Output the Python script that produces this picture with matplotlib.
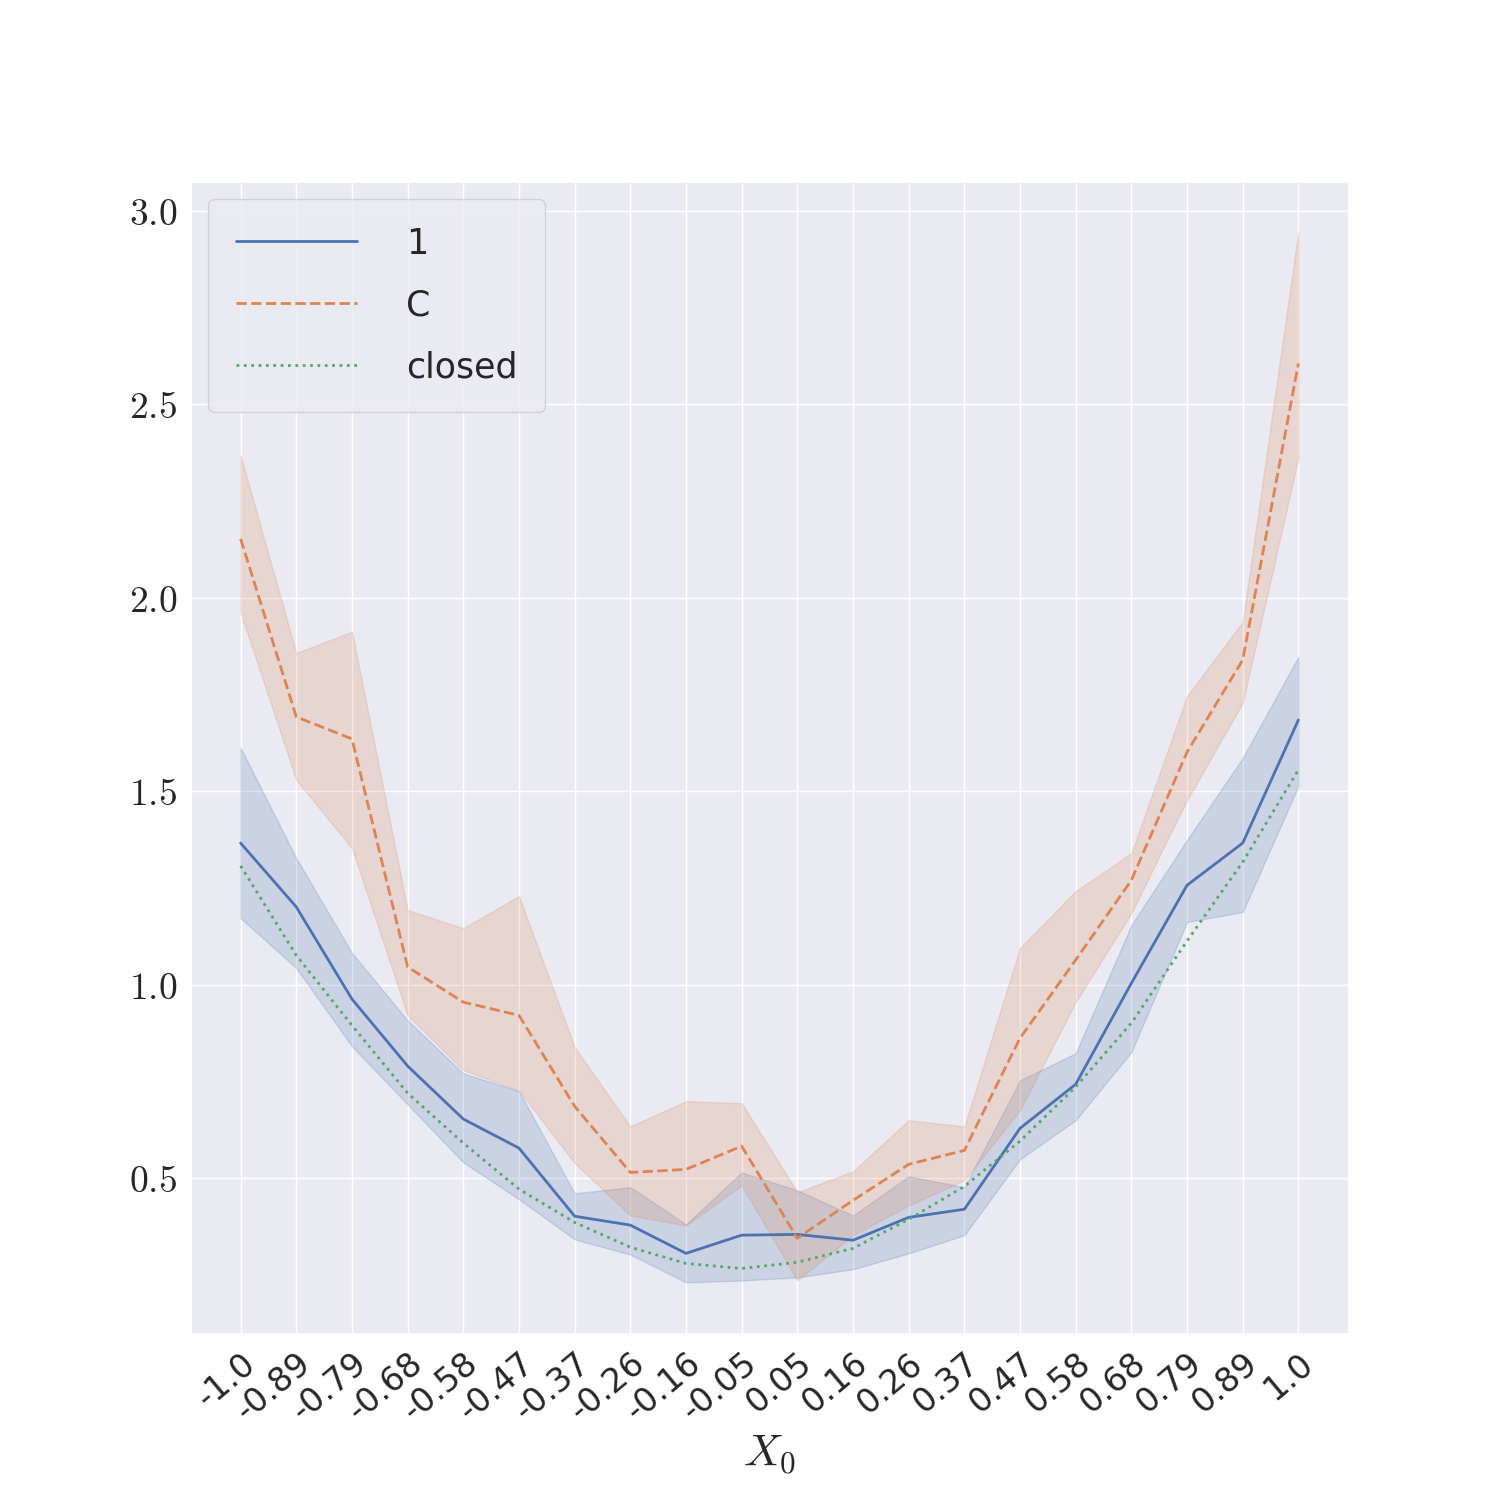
import matplotlib
matplotlib.use('Agg')
import matplotlib.pyplot as plt
import numpy as np
import seaborn as sns

sns.set_theme(style='darkgrid')
plt.rcParams['mathtext.fontset'] = 'cm'

x_labels = ['-1.0', '-0.89', '-0.79', '-0.68', '-0.58', '-0.47', '-0.37', '-0.26', '-0.16', '-0.05',
            '0.05', '0.16', '0.26', '0.37', '0.47', '0.58', '0.68', '0.79', '0.89', '1.0']

one_mean = [1.366, 1.201, 0.963, 0.790, 0.653, 0.578, 0.402, 0.379, 0.306, 0.353,
            0.355, 0.340, 0.399, 0.420, 0.629, 0.743, 1.004, 1.257, 1.366, 1.684]
one_hi = [1.612, 1.327, 1.082, 0.908, 0.771, 0.725, 0.461, 0.477, 0.381, 0.515,
          0.469, 0.404, 0.505, 0.477, 0.753, 0.823, 1.154, 1.374, 1.586, 1.847]
one_lo = [1.172, 1.043, 0.841, 0.691, 0.541, 0.446, 0.342, 0.303, 0.231, 0.236,
          0.244, 0.265, 0.306, 0.353, 0.549, 0.650, 0.826, 1.162, 1.188, 1.513]

c_mean = [2.152, 1.692, 1.635, 1.046, 0.955, 0.921, 0.686, 0.515, 0.523, 0.583,
          0.345, 0.443, 0.536, 0.572, 0.862, 1.064, 1.270, 1.601, 1.839, 2.605]
c_hi = [2.367, 1.857, 1.912, 1.193, 1.146, 1.229, 0.839, 0.634, 0.699, 0.694,
        0.464, 0.518, 0.650, 0.634, 1.095, 1.242, 1.340, 1.746, 1.937, 2.946]
c_lo = [1.961, 1.529, 1.353, 0.921, 0.779, 0.727, 0.539, 0.404, 0.378, 0.482,
        0.236, 0.353, 0.430, 0.495, 0.676, 0.955, 1.185, 1.477, 1.728, 2.361]

closed = [1.307, 1.076, 0.895, 0.720, 0.591, 0.472, 0.386, 0.322, 0.280, 0.267,
          0.283, 0.319, 0.394, 0.479, 0.596, 0.736, 0.901, 1.113, 1.317, 1.555]

pal = sns.color_palette()
x = np.arange(len(x_labels))

fig = plt.figure(figsize=(15, 15), dpi=100)
ax = fig.add_axes([0.127, 0.111, 0.772, 0.768])

ax.fill_between(x, one_lo, one_hi, color=pal[0], alpha=0.2, lw=1)
ax.fill_between(x, c_lo, c_hi, color=pal[1], alpha=0.2, lw=1)
ax.plot(x, one_mean, color=pal[0], lw=2, label='1')
ax.plot(x, c_mean, color=pal[1], lw=2, ls='--', label='C')
ax.plot(x, closed, color=pal[2], lw=2, ls=':', label='closed')

ax.set_xlim(-0.9, 19.9)
ax.set_ylim(0.099, 3.075)
ax.set_xticks(x)
ax.set_xticklabels(x_labels, rotation=40, ha='right', rotation_mode='anchor', fontsize=24)
yt = [0.5, 1.0, 1.5, 2.0, 2.5, 3.0]
ax.set_yticks(yt)
ax.set_yticklabels(['$%.1f$' % v for v in yt], fontsize=27)
ax.set_xlabel('$X_0$', fontsize=32, labelpad=4)

leg = ax.legend(loc='upper left', fontsize=25, handlelength=3.5, borderpad=0.8, labelspacing=0.8,
                handletextpad=1.4)

plt.savefig('out.png')
